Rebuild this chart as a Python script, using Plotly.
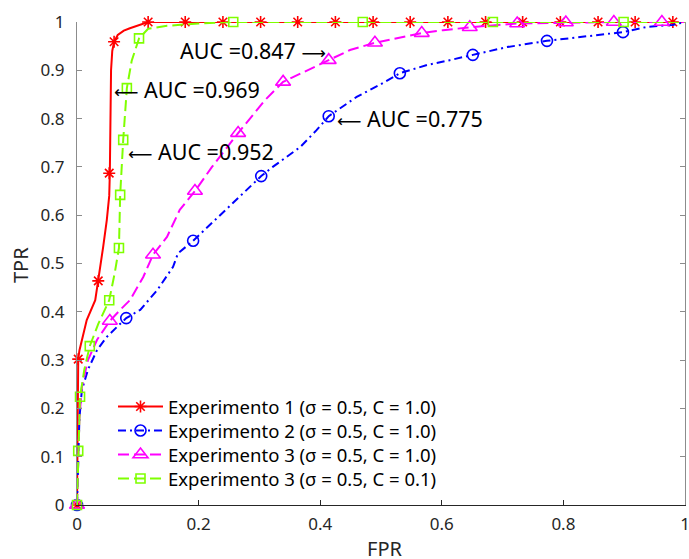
import plotly.graph_objects as go

# ---------------- data ----------------
exp1_fpr = [0, 0.001, 0.002, 0.004, 0.008, 0.016, 0.030, 0.035, 0.043, 0.049, 0.053, 0.054,
            0.055, 0.056, 0.058, 0.061, 0.067, 0.077, 0.087, 0.104, 0.117, 0.5, 1.0]
exp1_tpr = [0, 0.15, 0.302, 0.32, 0.342, 0.383, 0.424, 0.464, 0.534, 0.59, 0.64, 0.687,
            0.78, 0.9, 0.94, 0.959, 0.973, 0.982, 0.987, 0.994, 1.0, 1.0, 1.0]
exp1_mk_fpr = [0, 0.002, 0.035, 0.053, 0.061, 0.117, 0.178, 0.240, 0.302, 0.363, 0.425, 0.487,
               0.548, 0.610, 0.672, 0.733, 0.795, 0.857, 0.918, 0.980]
exp1_mk_tpr = [0, 0.302, 0.464, 0.687, 0.959, 1.0, 1.0, 1.0, 1.0, 1.0, 1.0, 1.0,
               1.0, 1.0, 1.0, 1.0, 1.0, 1.0, 1.0, 1.0]

exp2_fpr = [0, 0.002, 0.004, 0.008, 0.018, 0.033, 0.049, 0.066, 0.081, 0.104, 0.132, 0.158,
            0.166, 0.191, 0.252, 0.303, 0.322, 0.367, 0.394, 0.414, 0.46, 0.498, 0.531, 0.576,
            0.613, 0.651, 0.707, 0.773, 0.816, 0.86, 0.898, 0.9375, 0.98, 1.0]
exp2_tpr = [0, 0.1, 0.18, 0.238, 0.28, 0.321, 0.348, 0.369, 0.387, 0.404, 0.445, 0.493,
            0.521, 0.547, 0.621, 0.681, 0.700, 0.741, 0.776, 0.805, 0.845, 0.870, 0.894, 0.911,
            0.921, 0.932, 0.948, 0.961, 0.967, 0.973, 0.979, 0.99, 0.994, 1.0]
exp2_mk_fpr = [0, 0.081, 0.191, 0.303, 0.414, 0.531, 0.651, 0.773, 0.898]
exp2_mk_tpr = [0, 0.387, 0.547, 0.681, 0.805, 0.894, 0.932, 0.961, 0.979]

exp3_fpr = [0, 0.002, 0.004, 0.008, 0.018, 0.033, 0.054, 0.071, 0.087, 0.109, 0.125, 0.148,
            0.169, 0.194, 0.222, 0.265, 0.309, 0.339, 0.378, 0.414, 0.449, 0.49, 0.526, 0.567,
            0.602, 0.646, 0.724, 0.804, 0.883, 0.962, 1.0]
exp3_tpr = [0, 0.1, 0.18, 0.244, 0.3, 0.342, 0.381, 0.404, 0.424, 0.472, 0.518, 0.555,
            0.611, 0.65, 0.700, 0.770, 0.838, 0.876, 0.9, 0.921, 0.942, 0.957, 0.967, 0.977,
            0.983, 0.989, 0.997, 0.999, 1.0, 1.0, 1.0]
exp3_mk_fpr = [0, 0.054, 0.125, 0.194, 0.265, 0.339, 0.414, 0.49, 0.567, 0.646, 0.724, 0.804,
               0.883, 0.962]
exp3_mk_tpr = [0, 0.381, 0.518, 0.65, 0.770, 0.876, 0.921, 0.957, 0.977, 0.989, 0.997, 0.999,
               1.0, 1.0]

exp4_fpr = [0, 0.001, 0.002, 0.005, 0.012, 0.021, 0.035, 0.053, 0.062, 0.069, 0.071, 0.076,
            0.082, 0.090, 0.102, 0.117, 0.148, 0.2, 0.257, 1.0]
exp4_tpr = [0, 0.05, 0.112, 0.224, 0.28, 0.329, 0.375, 0.424, 0.48, 0.532, 0.642, 0.756,
            0.863, 0.92, 0.966, 0.986, 0.992, 0.997, 1.0, 1.0]
exp4_mk_fpr = [0, 0.002, 0.005, 0.021, 0.053, 0.069, 0.071, 0.076, 0.082, 0.102, 0.257, 0.470,
               0.684, 0.899]
exp4_mk_tpr = [0, 0.112, 0.224, 0.329, 0.424, 0.532, 0.642, 0.756, 0.863, 0.966, 1.0, 1.0,
               1.0, 1.0]

series_names = ["Experimento 1 (σ = 0.5, C = 1.0)",
                "Experimento 2 (σ = 0.5, C = 1.0)",
                "Experimento 3 (σ = 0.5, C = 1.0)",
                "Experimento 3 (σ = 0.5, C = 0.1)"]
auc_labels = ["AUC =0.969", "AUC =0.775", "AUC =0.847", "AUC =0.952"]
# annotation anchor points (data coords) for the AUC labels
auc_x = [0.058, 0.424, 0.412, 0.081]
auc_y = [0.861, 0.801, 0.940, 0.731]

x_ticks = [0, 0.2, 0.4, 0.6, 0.8, 1.0]
x_ticktext = ["0", "0.2", "0.4", "0.6", "0.8", "1"]
y_ticks = [0, 0.1, 0.2, 0.3, 0.4, 0.5, 0.6, 0.7, 0.8, 0.9, 1.0]
y_ticktext = ["0", "0.1", "0.2", "0.3", "0.4", "0.5", "0.6", "0.7", "0.8", "0.9", "1"]

# ---------------- styles ----------------
styles = [
    dict(color="#FF0000", dash="solid", symbol="asterisk-open", size=10),
    dict(color="#0000FF", dash="8px,4px,2px,4px", symbol="circle-open", size=11),
    dict(color="#FF00FF", dash="11px,5px", symbol="triangle-up-open", size=13),
    dict(color="#7FFF00", dash="11px,5px", symbol="square-open", size=9),
]
curves = [(exp1_fpr, exp1_tpr, exp1_mk_fpr, exp1_mk_tpr),
          (exp2_fpr, exp2_tpr, exp2_mk_fpr, exp2_mk_tpr),
          (exp3_fpr, exp3_tpr, exp3_mk_fpr, exp3_mk_tpr),
          (exp4_fpr, exp4_tpr, exp4_mk_fpr, exp4_mk_tpr)]

FONT = "Noto Sans"
AXC = "#262626"
GRAY = "#8c8c8c"
legend_ids = ["legend", "legend2", "legend3", "legend4"]
legend_rows_px = [407, 431, 455, 479]   # row centres in page pixels

fig = go.Figure()
for i, (fx, fy, mx, my) in enumerate(curves):
    st = styles[i]
    fig.add_trace(go.Scatter(x=fx, y=fy, mode="lines", showlegend=False,
                             line=dict(color=st["color"], width=2, dash=st["dash"]),
                             hoverinfo="skip"))
    fig.add_trace(go.Scatter(x=mx, y=my, mode="markers", showlegend=False, cliponaxis=False,
                             marker=dict(symbol=st["symbol"], size=st["size"], color=st["color"],
                                         line=dict(color=st["color"], width=1.6))))
for i, name in enumerate(series_names):
    st = styles[i]
    fig.add_trace(go.Scatter(x=[None], y=[None], mode="lines+markers", name=name,
                             legend=legend_ids[i],
                             line=dict(color=st["color"], width=2, dash=st["dash"]),
                             marker=dict(symbol=st["symbol"], size=st["size"], color=st["color"],
                                         line=dict(color=st["color"], width=1.6))))

arrow = "<span style='font-family:DejaVu Sans;font-size:17px'>%s</span>"
ann_texts = [arrow % "⟵" + " " + auc_labels[0],
             arrow % "⟵" + " " + auc_labels[1],
             auc_labels[2] + " " + arrow % "⟶",
             arrow % "⟵" + " " + auc_labels[3]]
anchors = ["left", "left", "right", "left"]
annotations = []
for t, ax_, ay_, xa in zip(ann_texts, auc_x, auc_y, anchors):
    annotations.append(dict(x=ax_, y=ay_, xref="x", yref="y", text=t, showarrow=False,
                            xanchor=xa, yanchor="middle",
                            font=dict(family=FONT, size=21.5, color="#000000")))
annotations.append(dict(x=0.505, y=-0.090, xref="paper", yref="paper", text="FPR",
                        showarrow=False, xanchor="center", yanchor="middle",
                        font=dict(family=FONT, size=20, color=AXC)))
annotations.append(dict(x=-0.092, y=0.497, xref="paper", yref="paper", text="TPR",
                        showarrow=False, xanchor="center", yanchor="middle", textangle=-90,
                        font=dict(family=FONT, size=20, color=AXC)))

legends = {}
for i, lid in enumerate(legend_ids):
    legends[lid] = dict(x=(113 - 77) / 608, y=(505 - legend_rows_px[i]) / 483,
                        xanchor="left", yanchor="middle", itemwidth=45,
                        bgcolor="rgba(0,0,0,0)", borderwidth=0,
                        font=dict(family=FONT, size=18.5, color="#000000"))

fig.update_layout(
    width=689, height=559,
    margin=dict(l=77, r=4, t=22, b=54, autoexpand=False),
    paper_bgcolor="white", plot_bgcolor="white",
    font=dict(family=FONT, size=17, color=AXC),
    showlegend=True,
    annotations=annotations,
    xaxis=dict(range=[0, 1], tickvals=x_ticks, ticktext=x_ticktext, ticks="inside",
               ticklen=5, tickcolor=AXC, showline=True, linecolor=AXC, linewidth=1,
               showgrid=False, zeroline=False, mirror=False, ticklabelstandoff=4,
               automargin=False, ticklabeloverflow="allow",
               tickfont=dict(family=FONT, size=17, color=AXC)),
    xaxis2=dict(range=[0, 1], tickvals=x_ticks, ticks="inside", ticklen=5, tickcolor=GRAY,
                showline=True, linecolor=GRAY, linewidth=1, showgrid=False, zeroline=False,
                overlaying="x", side="top", anchor="y", showticklabels=False, matches="x",
                automargin=False),
    yaxis=dict(range=[0, 1], tickvals=y_ticks, ticktext=y_ticktext, ticks="inside",
               ticklen=5, tickcolor=GRAY, showline=True, linecolor=GRAY, linewidth=1,
               showgrid=False, zeroline=False, mirror="ticks", ticklabelstandoff=8,
               automargin=False, ticklabeloverflow="allow",
               tickfont=dict(family=FONT, size=17, color=AXC)),
    **legends,
)

fig.write_html("out.html", config={"displayModeBar": False},
               post_script="document.body.style.margin='0';document.body.style.overflow='hidden';")
